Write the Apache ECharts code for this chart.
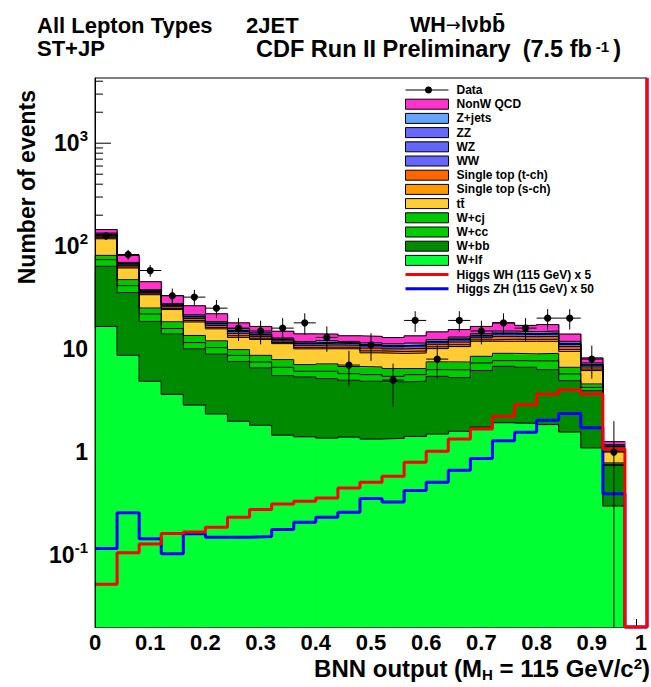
<!DOCTYPE html>
<html>
<head>
<meta charset="utf-8">
<script src="https://cdn.jsdelivr.net/npm/echarts@6/dist/echarts.min.js"></script>
<style>html,body{margin:0;padding:0;background:#fff}#c{width:651px;height:687px}</style>
</head>
<body>
<div id="c"></div>
<script>
// ---------------- data ----------------
const binEdges = [0,0.04,0.08,0.12,0.16,0.2,0.24,0.28,0.32,0.36,0.4,0.44,0.48,0.52,0.56,0.6,0.64,0.68,0.72,0.76,0.8,0.84,0.88,0.92,0.96,1];
const xTickLabels = ['0','0.1','0.2','0.3','0.4','0.5','0.6','0.7','0.8','0.9','1'];
const yTickLabels = ['10^-1','1','10','10^2','10^3'];

const dataCounts = [126,83,58,33,32,25,16,15,16,18,13,7,11,5,19,8,19,15,18,16,20,20,8,1,0];

const wlf   = [16.6,8.7,4.87,3.64,2.87,2.35,1.99,1.82,1.46,1.41,1.37,1.40,1.34,1.36,1.42,1.50,1.59,1.75,1.93,1.90,1.85,1.57,1.10,0.30,0];
const wbb   = [47.1,26.7,13.7,10.4,7.2,6.6,5.6,4.75,4.07,3.96,3.8,3.58,3.53,3.44,3.45,3.94,3.7,4.45,4.87,4.76,4.47,3.37,2.85,0.44,0];
const wcc   = [10.3,6.0,3.4,1.8,1.5,1.4,1.1,0.93,1.13,0.72,0.92,0.8,0.78,0.64,0.78,0.88,1.0,1.14,0.93,1.04,1.38,0.8,0.3,0.02,0];
const wcj   = [7.4,5.9,3.1,2.6,2.0,1.7,1.2,1.2,1.25,0.98,1.1,1.0,1.06,1.03,0.82,1.2,1.2,1.17,1.37,1.3,1.4,0.92,0.34,0.025,0];
const ttbar = [36.6,14.1,8.7,5.8,4.8,3.7,3.1,3.7,3.4,3.0,2.9,3.3,2.5,2.6,2.7,2.6,3.1,3.4,2.8,2.9,2.8,2.84,1.6,0.235,0];
const stopS = [2.9,1.5,0.72,0.63,0.58,0.5,0.5,0.36,0.27,0.32,0.36,0.32,0.41,0.4,0.41,0.41,0.45,0.4,0.56,0.52,0.56,0.43,0.21,0.03,0];
const stopT = [4.3,2.2,1.08,0.95,0.86,0.76,0.76,0.54,0.41,0.49,0.54,0.49,0.62,0.59,0.62,0.62,0.68,0.59,0.84,0.78,0.84,0.65,0.31,0.043,0];
const ww    = [3.5,1.8,0.88,0.77,0.7,0.62,0.62,0.44,0.33,0.4,0.44,0.4,0.51,0.48,0.51,0.51,0.55,0.48,0.68,0.64,0.68,0.53,0.26,0.035,0];
const wz    = [1.3,0.66,0.32,0.28,0.26,0.22,0.22,0.16,0.12,0.14,0.16,0.14,0.18,0.18,0.18,0.18,0.2,0.18,0.25,0.23,0.25,0.19,0.09,0.013,0];
const zz    = [0.64,0.33,0.16,0.14,0.13,0.11,0.11,0.08,0.06,0.07,0.08,0.07,0.09,0.09,0.09,0.09,0.1,0.09,0.12,0.12,0.12,0.1,0.05,0.006,0];
const zjets = [3.4,1.7,0.84,0.74,0.67,0.59,0.59,0.42,0.32,0.38,0.42,0.38,0.48,0.46,0.48,0.48,0.53,0.46,0.65,0.61,0.65,0.5,0.24,0.034,0];
const qcd   = [11,11.8,7.4,5.4,4.8,3.5,2.2,2.2,2.1,2.2,1.9,1.6,1.8,1.7,2.0,2.3,2.4,2.5,3.0,2.2,2.3,2.1,0.86,0.08,0];

const higgsWH = [0.052,0.105,0.128,0.162,0.167,0.186,0.233,0.277,0.314,0.333,0.359,0.449,0.51,0.582,0.796,1.02,1.34,1.68,2.23,2.89,3.67,4.04,3.67,1.07,0];
const higgsZH = [0.116,0.257,0.144,0.103,0.161,0.149,0.149,0.151,0.177,0.208,0.233,0.260,0.354,0.328,0.423,0.509,0.666,0.865,1.29,1.56,2.04,2.37,1.72,0.393,0];

// ---------------- styling ----------------
const FONT = '"Liberation Sans", Arial, Helvetica, sans-serif';
const Y_MIN = 0.02, Y_MAX = 4300;

const stackDefs = [ // bottom -> top
  ['W+lf', wlf, '#00ff33'],
  ['W+bb', wbb, '#008a00'],
  ['W+cc', wcc, '#00cc00'],
  ['W+cj', wcj, '#00c800'],
  ['tt\u0304', ttbar, '#ffcc33'],
  ['Single top (s-ch)', stopS, '#ff9900'],
  ['Single top (t-ch)', stopT, '#ff6600'],
  ['WW', ww, '#6666ff'],
  ['WZ', wz, '#6464fa'],
  ['ZZ', zz, '#6868ff'],
  ['Z+jets', zjets, '#66a3ff'],
  ['NonW QCD', qcd, '#ff33cc']
];

function fillRect(params, api) {
  const lo = api.value(0), hi = api.value(1), a = api.value(2), b = api.value(3);
  if (!(b > a)) return null;
  const p0 = api.coord([lo, b]);
  const p1 = api.coord([hi, a]);
  const c = api.visual('color');
  return {
    type: 'rect',
    shape: { x: p0[0], y: p0[1], width: p1[0] - p0[0] + 0.5, height: p1[1] - p0[1] },
    style: { fill: c, stroke: c, lineWidth: 0.8 }
  };
}

function dataItem(params, api) {
  const x = api.value(0), n = api.value(1), lo = api.value(2), hi = api.value(3);
  if (!(n > 0)) return null;
  const e = Math.sqrt(n);
  const p = api.coord([x, n]);
  const t = api.coord([x, n + e]);
  const b = api.coord([x, Math.max(n - e, Y_MIN)]);
  const l = api.coord([lo, n]);
  const r = api.coord([hi, n]);
  const ls = { stroke: '#000', lineWidth: 1 };
  return {
    type: 'group',
    children: [
      { type: 'line', shape: { x1: p[0], y1: t[1], x2: p[0], y2: b[1] }, style: ls },
      { type: 'line', shape: { x1: l[0], y1: p[1], x2: r[0], y2: p[1] }, style: ls },
      { type: 'circle', shape: { cx: p[0], cy: p[1], r: 3.6 }, style: { fill: '#000' } }
    ]
  };
}

const series = [];
const cum = dataCounts.map(() => 0);
stackDefs.forEach(([name, vals, color]) => {
  const items = [];
  vals.forEach((v, i) => {
    const low = cum[i];
    const high = low + v;
    cum[i] = high;
    if (high > 0) items.push([binEdges[i], binEdges[i + 1], Math.max(low, Y_MIN), high]);
  });
  series.push({
    type: 'custom', name: name, renderItem: fillRect, data: items,
    encode: { x: [0, 1], y: [2, 3] }, itemStyle: { color: color },
    z: 2, silent: true, animation: false
  });
  const pts = [];
  let last = -1;
  cum.forEach((c, i) => { if (c > 0) { pts.push([binEdges[i], c]); last = i; } });
  pts.push([binEdges[last + 1], cum[last]]);
  series.push({
    type: 'line', step: 'end', data: pts, symbol: 'none',
    lineStyle: { color: '#000', width: 1 }, itemStyle: { color: '#000' },
    z: 3, silent: true, animation: false, clip: true
  });
});

function higgsLine(vals) {
  const pts = vals.map((v, i) => [binEdges[i], Math.max(v, Y_MIN)]);
  pts.push([binEdges[binEdges.length - 1], Y_MAX]);
  return pts;
}
series.push({
  type: 'line', name: 'Higgs ZH (115 GeV) x 50', step: 'end', data: higgsLine(higgsZH),
  symbol: 'none', lineStyle: { color: '#0000ff', width: 3 }, itemStyle: { color: '#0000ff' },
  z: 4, clip: false, silent: true, animation: false
});
series.push({
  type: 'line', name: 'Higgs WH (115 GeV) x 5', step: 'end', data: higgsLine(higgsWH),
  symbol: 'none', lineStyle: { color: '#ff0000', width: 3 }, itemStyle: { color: '#ff0000' },
  z: 5, clip: false, silent: true, animation: false
});
series.push({
  type: 'custom', name: 'Data', renderItem: dataItem,
  data: dataCounts.map((n, i) => [(binEdges[i] + binEdges[i + 1]) / 2, n, binEdges[i], binEdges[i + 1]]),
  encode: { x: 0, y: 1 }, itemStyle: { color: '#000' }, z: 6, silent: true, animation: false
});

const DATA_ICON = 'path://M0,3H19.54A3.5,3.5,0,0,1,26.46,3H43V4H26.46A3.5,3.5,0,0,1,19.54,4H0Z';
const LINE_ICON = 'path://M0,0H43V3H0Z';
const legendOrder = ['NonW QCD','Z+jets','ZZ','WZ','WW','Single top (t-ch)','Single top (s-ch)','tt\u0304','W+cj','W+cc','W+bb','W+lf'];
const legendData = [{ name: 'Data', icon: DATA_ICON, itemStyle: { borderWidth: 0 } }]
  .concat(legendOrder.map(n => ({ name: n, icon: 'rect' })))
  .concat([
    { name: 'Higgs WH (115 GeV) x 5', icon: LINE_ICON, itemStyle: { borderWidth: 0 } },
    { name: 'Higgs ZH (115 GeV) x 50', icon: LINE_ICON, itemStyle: { borderWidth: 0 } }
  ]);

function yLabel(v) {
  const lg = Math.log10(v);
  const e = Math.round(lg);
  if (Math.abs(lg - e) > 1e-6) return '';
  const txt = yTickLabels[e + 1];
  if (txt === undefined) return '';
  if (txt.indexOf('^') < 0) return txt;
  const parts = txt.split('^');
  return '{b|' + parts[0] + '}{s|' + parts[1] + '}';
}

const textEl = (text, x, y, size, extra) => ({
  type: 'text', x: x, y: y, silent: true,
  style: Object.assign({ text: text, fontFamily: FONT, fontWeight: 'bold', fontSize: size, lineHeight: 21, fill: '#000', align: 'left', verticalAlign: 'middle' }, extra || {})
});
const M = (size, lh) => ({ fontFamily: FONT, fontWeight: 'bold', fontSize: size, lineHeight: lh, fill: '#000' });

const graphics = [
  textEl('All Lepton Types', 37, 25.5, 22),
  textEl('2JET', 246, 25.5, 22),
  textEl('{m|WH}{a|\u2192}{m|l\u03bdbb\u0304}', 410, 24.5, 22, {
    rich: {
      m: M(21.5, 20),
      a: { fontFamily: '"DejaVu Sans", sans-serif', fontWeight: 'normal', fontSize: 18, lineHeight: 20, fill: '#000' }
    }
  }),
  textEl('ST+JP', 37, 48.5, 22),
  textEl('{m|CDF Run II Preliminary}{p|(7.5 fb}{s|-1}{m|)}', 256, 49, 23.5, {
    rich: {
      m: M(23.5, 21),
      p: Object.assign(M(23.5, 21), { padding: [0, 0, 0, 12] }),
      s: Object.assign(M(15, 15), { verticalAlign: 'top', padding: [0, 4, 0, 4] })
    }
  }),
  {
    type: 'text', x: 27, y: 90, rotation: Math.PI / 2, silent: true,
    style: { text: 'Number of events', fontFamily: FONT, fontWeight: 'bold', fontSize: 23, fill: '#000', align: 'right', verticalAlign: 'middle' }
  },
  {
    type: 'text', x: 650, y: 656, silent: true,
    style: {
      text: '{m|BNN output (M}{sub|H}{m| = 115 GeV/c}{sup|2}{m|)}',
      align: 'right', verticalAlign: 'top', fill: '#000',
      rich: {
        m: Object.assign(M(24, 24), { verticalAlign: 'top' }),
        sub: Object.assign(M(15, 15), { verticalAlign: 'top', padding: [11, 0, 0, 0] }),
        sup: Object.assign(M(15, 15), { verticalAlign: 'top' })
      }
    }
  }
];

const option = {
  animation: false,
  backgroundColor: '#fff',
  grid: {
    left: 95, right: 4, top: 78, bottom: 60, containLabel: false, outerBoundsMode: 'none',
    show: true, borderColor: '#000', borderWidth: 1, backgroundColor: 'transparent'
  },
  xAxis: {
    type: 'value', min: 0, max: 1, interval: 0.1, z: 0,
    axisLine: { onZero: false, lineStyle: { color: '#000', width: 1 } },
    axisTick: { inside: true, length: 15, lineStyle: { color: '#000' } },
    minorTick: { show: true, splitNumber: 5, length: 8, lineStyle: { color: '#000' } },
    splitLine: { show: false },
    axisLabel: {
      margin: 7, fontSize: 22, lineHeight: 16, fontWeight: 'bold', fontFamily: FONT, color: '#000',
      alignMaxLabel: 'right',
      formatter: (v) => xTickLabels[Math.round(v * 10)]
    }
  },
  yAxis: {
    type: 'log', logBase: 10, min: Y_MIN, max: Y_MAX, z: 10,
    axisLine: { show: true, lineStyle: { color: '#000', width: 1 } },
    axisTick: { show: false },
    minorTick: { show: false },
    splitLine: { show: false },
    axisLabel: {
      margin: 7, fontSize: 23, fontWeight: 'bold', fontFamily: FONT, color: '#000',
      formatter: yLabel,
      rich: {
        b: { fontSize: 23, fontWeight: 'bold', fontFamily: FONT, color: '#000', lineHeight: 30 },
        s: { fontSize: 15, fontWeight: 'bold', fontFamily: FONT, color: '#000', lineHeight: 15, verticalAlign: 'top' }
      }
    }
  },
  legend: {
    left: 405, top: 84, orient: 'vertical', padding: 0,
    itemWidth: 43, itemHeight: 10, itemGap: 2.2, symbolKeepAspect: true,
    selectedMode: false,
    itemStyle: { borderColor: '#000', borderWidth: 1 },
    textStyle: { fontFamily: FONT, fontWeight: 'bold', fontSize: 12, color: '#000', padding: [0, 0, 0, 3] },
    data: legendData
  },
  graphic: graphics,
  series: series
};

const chart = echarts.init(document.getElementById('c'), null, { renderer: 'svg' });
chart.setOption(option);

// y axis ticks (log major + minor), drawn beneath the histograms like ROOT
const tickList = [];
[0.01, 0.1, 1, 10, 100, 1000].forEach(dec => {
  [2, 3, 4, 5, 6, 7, 8, 9].forEach(m => {
    const v = dec * m;
    if (v >= Y_MIN && v <= Y_MAX) tickList.push([v, 8]);
  });
});
[0.1, 1, 10, 100, 1000].forEach(v => tickList.push([v, 16]));
const extraG = tickList.map(([v, len]) => {
  const p = chart.convertToPixel({ gridIndex: 0 }, [0, v]);
  return { type: 'line', z: 1, silent: true, shape: { x1: p[0], y1: p[1], x2: p[0] + len, y2: p[1] }, style: { stroke: '#000', lineWidth: 1 } };
});
chart.setOption({ graphic: graphics.concat(extraG) });
</script>
</body>
</html>
